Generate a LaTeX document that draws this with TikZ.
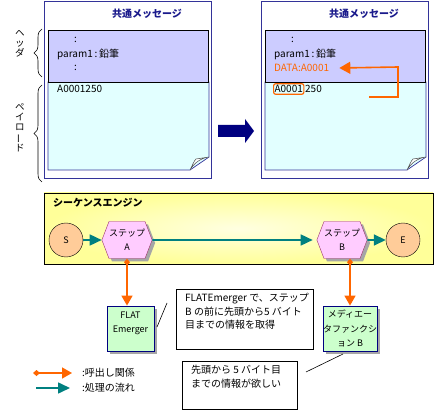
\documentclass[tikz,border=0pt]{standalone}
\usepackage{fontspec}
\setmainfont{Noto Sans CJK JP}
\usepackage{graphicx}
\usetikzlibrary{shapes.symbols,shadows,arrows.meta,decorations.pathreplacing}
\definecolor{framecol}{RGB}{51,51,153}
\definecolor{titlecol}{RGB}{26,26,140}
\definecolor{headcol}{RGB}{204,204,255}
\definecolor{paycol}{RGB}{226,255,255}
\definecolor{orng}{RGB}{255,102,0}
\definecolor{tealc}{RGB}{0,128,128}
\definecolor{peach}{RGB}{255,204,153}
\definecolor{pinkc}{RGB}{255,204,255}
\definecolor{hexborder}{RGB}{153,51,102}
\definecolor{greenc}{RGB}{204,255,204}
\definecolor{navyc}{RGB}{0,0,128}
\definecolor{yel}{RGB}{255,255,153}
\definecolor{yelin}{RGB}{255,255,225}
\tikzset{
 txt/.style={inner sep=0pt, anchor=west, font=\fontsize{10}{12}\selectfont},
 flow/.style={tealc, line width=1.6pt, -{Triangle[length=12pt,width=11pt]}},
 call/.style={orng, line width=1.6pt, {Diamond[length=7pt,width=6pt]}-{Triangle[length=10pt,width=11pt]}},
 hexa/.style={signal, signal to=east and west, signal pointer angle=138, minimum width=48pt, minimum height=37pt, inner sep=0pt, draw=hexborder, fill=pinkc, align=center, font=\fontsize{9}{14}\selectfont, drop shadow={shadow xshift=3pt, shadow yshift=-3pt, fill=black!35, opacity=1}},
 term/.style={circle, draw=black, fill=peach, minimum size=34pt, inner sep=0pt, font=\fontsize{9}{11}\selectfont},
 comp/.style={draw=navyc, fill=greenc, minimum width=47pt, minimum height=45pt, inner sep=0pt, align=center, line width=0.8pt, font=\fontsize{9}{14.5}\selectfont, drop shadow={shadow xshift=3pt, shadow yshift=-3pt, fill=black!35, opacity=1}},
 note/.style={draw=black, fill=white, inner sep=0pt, font=\fontsize{10}{13.5}\selectfont},
 vlab/.style={inner sep=0pt, align=center, font=\fontsize{9.5}{10}\selectfont},
}
\begin{document}
\begin{tikzpicture}[x=1pt,y=-1pt]
\useasboundingbox (0,0) rectangle (434,414);
% message frames
\foreach \ox/\nm in {0/L,217/R}{
 \begin{scope}[xshift=\ox pt]
  \node[draw=framecol, line width=1pt, fill=white, minimum width=167pt, minimum height=177pt, anchor=north west, inner sep=0pt] (frame\nm) at (44,1) {};
  \node[inner sep=0pt, text=titlecol, font=\fontsize{10}{12}\selectfont\bfseries] (title\nm) at (147,14) {共通メッセージ};
  \fill[paycol] (48,82) -- (209,82) -- (209,157) -- (190,170) -- (48,170) -- cycle;
  \draw[framecol, line width=0.7pt] (48,82) -- (209,82) -- (209,157) -- (190,170) -- (48,170) -- cycle;
  \draw[black!70, fill=white, line width=0.5pt] (190,170) .. controls (193,164) and (194,161) .. (196,159) -- (209,157) .. controls (201,158) and (194,163) .. (190,170);
  \node[draw=black, line width=0.7pt, fill=headcol, minimum width=160pt, minimum height=52pt, anchor=north west, inner sep=0pt] (head\nm) at (48,30) {};
  \node[txt] (c1\nm) at (74,40) {:};
  \node[txt] (p\nm) at (57,54) {param1\,:\,鉛筆};
 \end{scope}
}
\node[txt] (c2L) at (74,68) {:};
\node[txt] (payL) at (57,89) {A0001250};
\node[txt, text=orng] (data) at (274,68) {DATA:A0001};
\node[txt, draw=orng, rounded corners=2pt, line width=1.2pt, inner xsep=1pt, inner ysep=1.5pt] (pa) at (273,89) {A0001};
\node[txt] (pb) at ([xshift=0.5pt]pa.east) {250};
\coordinate (oc1) at (369,97);
\coordinate (oc2) at (398,67);
\draw[orng, line width=1.6pt, -{Triangle[length=11pt,width=12pt]}] (oc1) -| (oc2) -- ([xshift=10pt]data.east);
% braces
\draw[decorate, decoration={brace, amplitude=8pt}, line width=0.6pt] (42,77) -- (42,29);
\draw[decorate, decoration={brace, amplitude=8pt}, line width=0.6pt] (42,182) -- (42,85);
\node[vlab] (hdr) at (20,44) {ヘ\\ッ\\ダ};
\node[vlab] (pld) at (20,128) {ペ\\イ\\ロ\\\rotatebox[origin=c]{90}{ー}\\ド};
% big arrow
\fill[navyc] (218,125) -- (245,125) -- (245,119) -- (254,131) -- (245,143) -- (245,137) -- (218,137) -- cycle;
% sequence engine
\node[draw=black, line width=0.8pt, inner color=yelin, outer color=yel, minimum width=389pt, minimum height=71pt, inner sep=0pt] (seq) at (238.5,228.5) {};
\node[txt, font=\fontsize{10}{12}\selectfont\bfseries] (seqlab) at (53,203) {シーケンスエンジン};
\node[term] (S) at (66,240) {S};
\node[term] (E) at (403,240) {E};
\node[hexa] (A) at (127,240) {ステップ\\A};
\node[hexa] (B) at (342,240) {ステップ\\B};
\draw[flow] (S) -- (A);
\draw[flow] (A) -- ([xshift=-4pt]B.west);
\draw[flow] (B) -- (E);
% components
\node[comp] (flat) at (130.5,328.5) {FLAT\\Emerger\\[-2pt]~};
\node[comp] (med) at (350,328.5) {メディエー\\タファンクシ\\ョン B};
\draw[call] (A.south) -- (A.south |- flat.north);
\draw[call] (med.north |- B.south) -- (med.north);
% notes
\node[note, anchor=north west] (n1) at (176,289) {\parbox[t][60pt][t]{137pt}{\parindent=0pt\vspace{3pt}\hspace*{9pt}\begin{tabular}[t]{@{}l@{}}FLATEmerger で、ステップ\\B の前に先頭から5 バイト\\目までの情報を取得\end{tabular}}};
\node[note, anchor=north west] (n2) at (182,361) {\parbox[t][48pt][t]{115pt}{\parindent=0pt\vspace{3pt}\hspace*{9pt}\begin{tabular}[t]{@{}l@{}}先頭から 5 バイト目\\までの情報が欲しい\end{tabular}}};
\coordinate (l1a) at (167,303);
\coordinate (l1b) at (157,327);
\draw[black, line width=0.6pt] (l1a) -- (l1b);
\coordinate (l2a) at (306,372);
\coordinate (l2b) at (343,354);
\draw[black, line width=0.6pt] (l2a) -- (l2b);
% legend
\coordinate (lg1a) at (33,373);
\coordinate (lg1b) at (72,373);
\coordinate (lg2a) at (36,388);
\coordinate (lg2b) at (70,388);
\draw[call] (lg1a) -- (lg1b);
\draw[flow] (lg2a) -- (lg2b);
\node[txt] (lgt1) at (82,373) {:呼出し関係};
\node[txt] (lgt2) at (82,388) {:処理の流れ};
\end{tikzpicture}
\end{document}
